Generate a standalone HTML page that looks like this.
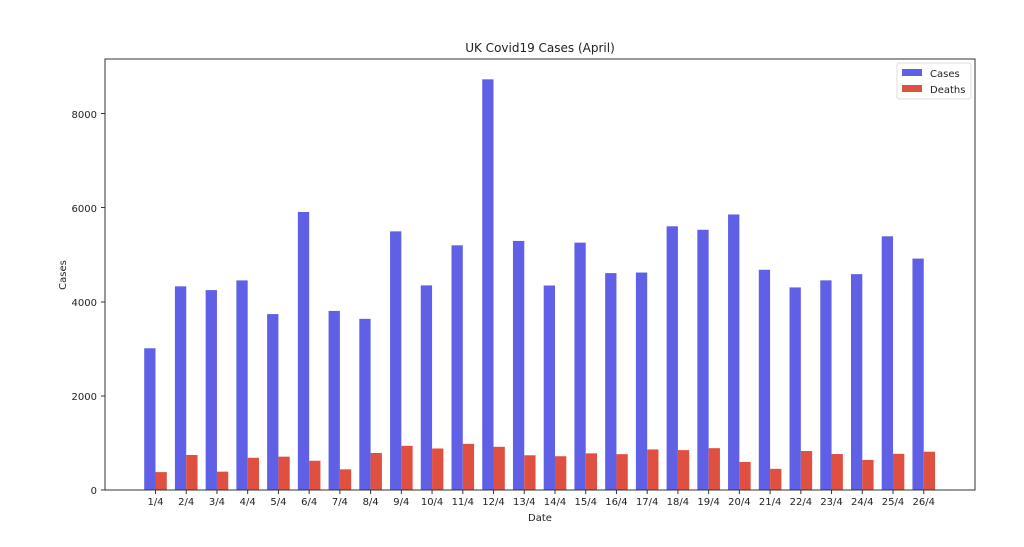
<!DOCTYPE html>
<html><head><style>body{margin:0;background:#fff}svg{display:block;font-family:"DejaVu Sans","Liberation Sans",sans-serif}</style></head>
<body>
<svg id="s" width="1024" height="547" xmlns="http://www.w3.org/2000/svg">
<rect width="1024" height="547" fill="#fff"/>
<g id="bars"></g>
<rect x="105" y="59" width="870" height="431" fill="none" stroke="#333" stroke-width="1"/>
<text x="540" y="52" font-size="12" text-anchor="middle" fill="#222">UK Covid19 Cases (April)</text>
<text x="540" y="521" font-size="10" text-anchor="middle" fill="#222">Date</text>
<text transform="translate(66,275) rotate(-90)" font-size="10" text-anchor="middle" fill="#222">Cases</text>
<g font-size="10" fill="#222" text-anchor="end">
<text x="97" y="494">0</text><line x1="101" x2="105" y1="490" y2="490" stroke="#333"/>
<text x="97" y="400">2000</text><line x1="101" x2="105" y1="396" y2="396" stroke="#333"/>
<text x="97" y="306">4000</text><line x1="101" x2="105" y1="302" y2="302" stroke="#333"/>
<text x="97" y="212">6000</text><line x1="101" x2="105" y1="207.5" y2="207.5" stroke="#333"/>
<text x="97" y="118">8000</text><line x1="101" x2="105" y1="113.5" y2="113.5" stroke="#333"/>
</g>
<g id="xt" font-size="10" fill="#222" text-anchor="middle"></g>
<rect x="897" y="63" width="74" height="36" fill="#fff" stroke="#ddd" rx="2"/>
<rect x="902" y="69" width="20" height="7" fill="#6060e6"/>
<rect x="902" y="85" width="20" height="7" fill="#e05040"/>
<text x="930" y="77" font-size="10" fill="#222">Cases</text>
<text x="930" y="93" font-size="10" fill="#222">Deaths</text>
</svg>
<script>
var c=[3009,4324,4244,4450,3735,5903,3802,3634,5491,4344,5195,8719,5288,4342,5252,4605,4617,5599,5525,5850,4676,4301,4451,4583,5386,4913];
var d=[380,743,389,684,708,621,439,786,938,881,980,917,737,717,778,761,861,847,888,596,449,828,763,639,768,813];
var b='',t='',k=0.0471,w=11.3;
for(var i=0;i<26;i++){var x=155.5+i*30.73;
b+='<rect x="'+(x-w)+'" y="'+(490-c[i]*k)+'" width="'+w+'" height="'+c[i]*k+'" fill="#6060e6"/>';
b+='<rect x="'+x+'" y="'+(490-d[i]*k)+'" width="'+w+'" height="'+d[i]*k+'" fill="#e05040"/>';
t+='<line x1="'+x+'" x2="'+x+'" y1="490" y2="494" stroke="#333"/><text x="'+x+'" y="505">'+(i+1)+'/4</text>';}
document.getElementById('bars').innerHTML=b;document.getElementById('xt').innerHTML=t;
</script>
</body></html>
